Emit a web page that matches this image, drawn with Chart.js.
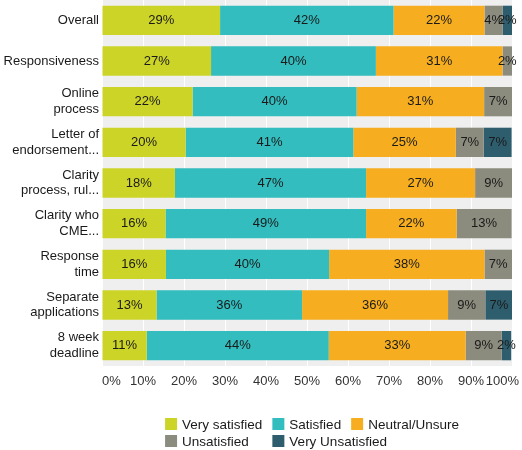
<!DOCTYPE html>
<html>
<head>
  <title>Satisfaction survey</title>
  <script src="https://cdn.jsdelivr.net/npm/chart.js"></script>
  <style>
    body { margin: 0; background: #fff; }
    .wrap { width: 522px; height: 450px; }
  </style>
</head>
<body>
  <div class="wrap"><canvas id="myChart" width="522" height="450"></canvas></div>
  <script>
    const categories = [
      'Overall', 'Responsiveness', ['Online', 'process'], ['Letter of', 'endorsement...'],
      ['Clarity', 'process, rul...'], ['Clarity who', 'CME...'], ['Response', 'time'],
      ['Separate', 'applications'], ['8 week', 'deadline']
    ];
    const seriesNames = ['Very satisfied', 'Satisfied', 'Neutral/Unsure', 'Unsatisfied', 'Very Unsatisfied'];
    const seriesColors = ['#CDD428', '#33BDBE', '#F6AE20', '#8C8C7E', '#2E5E6E'];
    const verySatisfied = [28.8, 26.6, 22.1, 20.4, 17.8, 15.5, 15.6, 13.3, 10.9];
    const satisfied = [42.3, 40.2, 40.0, 40.9, 46.6, 48.9, 39.8, 35.5, 44.4];
    const neutral = [22.2, 30.9, 31.1, 25.0, 26.6, 22.1, 37.9, 35.6, 33.4];
    const unsatisfied = [4.4, 2.3, 6.8, 6.8, 9.0, 13.4, 6.7, 9.1, 8.8];
    const veryUnsatisfied = [2.3, 0, 0, 6.8, 0, 0, 0, 6.6, 2.3];
    const xTickValues = [0, 10, 20, 30, 40, 50, 60, 70, 80, 90, 100];
    const xTicks = ['0%', '10%', '20%', '30%', '40%', '50%', '60%', '70%', '80%', '90%', '100%'];

    const seriesValues = [verySatisfied, satisfied, neutral, unsatisfied, veryUnsatisfied];
    const FONT = '"Liberation Sans", Arial, sans-serif';

    // grey panel behind the bars
    const panelBg = {
      id: 'panelBg',
      beforeDraw(chart) {
        const a = chart.chartArea;
        const ctx = chart.ctx;
        ctx.save();
        ctx.fillStyle = '#EFEFEF';
        ctx.fillRect(a.left, a.top, a.right - a.left, a.bottom - a.top);
        ctx.restore();
      }
    };

    // percentage labels in the middle of each segment
    const segLabels = {
      id: 'segLabels',
      afterDatasetsDraw(chart) {
        const ctx = chart.ctx;
        ctx.save();
        ctx.font = '13px ' + FONT;
        ctx.fillStyle = '#1a1a1a';
        ctx.textAlign = 'center';
        ctx.textBaseline = 'middle';
        chart.data.datasets.forEach((ds, i) => {
          chart.getDatasetMeta(i).data.forEach((bar, j) => {
            const v = ds.data[j];
            if (!v) return;
            ctx.fillText(Math.round(v) + '%', (bar.x + bar.base) / 2, bar.y);
          });
        });
        ctx.restore();
      }
    };

    // x tick labels, centred on the gridline but kept inside the canvas
    const xLabels = {
      id: 'xLabels',
      afterDraw(chart) {
        const ctx = chart.ctx;
        const sx = chart.scales.x;
        ctx.save();
        ctx.font = '13px ' + FONT;
        ctx.fillStyle = '#333';
        ctx.textAlign = 'left';
        ctx.textBaseline = 'middle';
        xTickValues.forEach((v, i) => {
          const tw = ctx.measureText(xTicks[i]).width;
          let left = sx.getPixelForValue(v) - tw / 2;
          left = Math.max(sx.left, Math.min(left, chart.width - 3 - tw));
          ctx.fillText(xTicks[i], left, sx.top + 15);
        });
        ctx.restore();
      }
    };

    // two-row legend, second row lines up with first row columns
    const gridLegend = {
      id: 'gridLegend',
      afterDraw(chart) {
        const ctx = chart.ctx;
        const a = chart.chartArea;
        ctx.save();
        ctx.font = '13.5px ' + FONT;
        ctx.textBaseline = 'middle';
        const box = 12, gap = 5, colGap = 10;
        const rows = [[0, 1, 2], [3, 4]];
        const w = seriesNames.map(n => box + gap + ctx.measureText(n).width);
        const rowW = rows[0].reduce((s, k) => s + w[k], 0) + colGap * (rows[0].length - 1);
        const startX = (a.left + a.right) / 2 - rowW / 2 + 5;
        const colX = [];
        let x = startX;
        rows[0].forEach(k => { colX.push(x); x += w[k] + colGap; });
        const rowY = [a.bottom + 58, a.bottom + 75];
        rows.forEach((row, r) => {
          row.forEach((k, c) => {
            const cx = colX[c];
            ctx.fillStyle = seriesColors[k];
            ctx.fillRect(cx, rowY[r] - box / 2, box, box);
            ctx.fillStyle = '#1a1a1a';
            ctx.fillText(seriesNames[k], cx + box + gap, rowY[r] + 1);
          });
        });
        ctx.restore();
      }
    };

    const ctx = document.getElementById('myChart').getContext('2d');
    const chart = new Chart(ctx, {
      type: 'bar',
      data: {
        labels: categories,
        datasets: seriesNames.map((name, i) => ({
          label: name,
          data: seriesValues[i],
          backgroundColor: seriesColors[i],
          borderWidth: 0,
          barPercentage: 0.72,
          categoryPercentage: 1
        }))
      },
      options: {
        indexAxis: 'y',
        responsive: false,
        animation: false,
        layout: { padding: { left: 0, right: 10, top: 0, bottom: 54 } },
        plugins: {
          legend: { display: false },
          tooltip: { enabled: false }
        },
        scales: {
          x: {
            stacked: true,
            min: 0,
            max: 100,
            border: { display: false },
            grid: { color: '#FFFFFF', lineWidth: 1, drawTicks: false },
            afterFit(scale) {
              scale.height = 30;
              scale.paddingLeft = 0;
              scale.paddingRight = 0;
            },
            ticks: {
              stepSize: 10,
              display: false
            }
          },
          y: {
            stacked: true,
            border: { display: false },
            grid: { display: false, drawTicks: false },
            afterFit(scale) {
              scale.width = 102;
              scale.paddingTop = 0;
              scale.paddingBottom = 0;
            },
            ticks: {
              padding: 3,
              color: '#1a1a1a',
              font: { family: FONT, size: 13, lineHeight: 1.2 }
            }
          }
        }
      },
      plugins: [panelBg, segLabels, xLabels, gridLegend]
    });
  </script>
</body>
</html>
